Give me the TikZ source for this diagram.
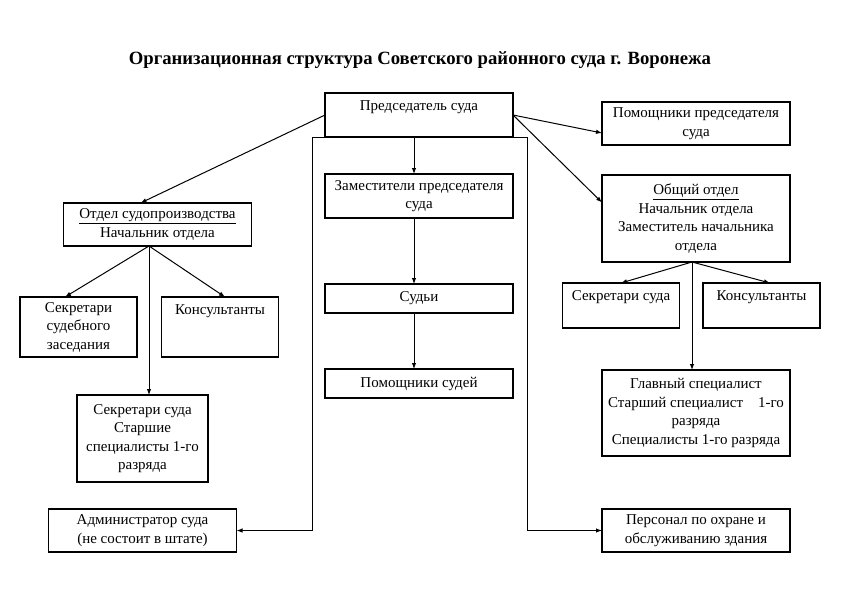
\documentclass[tikz,border=0pt]{standalone}
\usepackage{fontspec}
\setmainfont{Liberation Serif}
\usetikzlibrary{arrows.meta, positioning, calc}

\begin{document}
\begin{tikzpicture}[
  x=1pt, y=-1pt,
  >={Latex[length=6pt, width=4.5pt]},
  font=\fontsize{15}{18.5}\selectfont,
  node distance=37pt,
  unit/.style={
    rectangle, draw, line width=1.1pt, align=center,
    inner sep=3pt, outer sep=0pt,
  },
  wide/.style={unit, minimum width=188pt},
  small/.style={unit, minimum width=117pt},
  topline/.style={text height=14.5pt, text depth=#1},
  link/.style={->, line width=1pt},
]
\fill[white] (0,0) rectangle (850,594);
\useasboundingbox (0,0) rectangle (850,594);

% --- Title ---
\node[font=\bfseries\fontsize{18.7}{22}\selectfont] (title) at (420,60)
  {Организационная структура Советского районного суда г. Воронежа};

% --- Chairman and centre column ---
\node[wide, minimum height=44pt, topline=23.5pt] (chair) at (419,115) {Председатель суда};
\node[wide, minimum height=44pt, below=of chair] (deputy) {Заместители председателя\\суда};
\node[wide, minimum height=29pt, below=66pt of deputy] (judges) {Судьи};
\node[wide, minimum height=29pt, below=56pt of judges] (assist) {Помощники судей};

% --- Left: court proceedings office ---
\node[wide, minimum height=43pt] (office) at (157.5,224.5) {\underline{Отдел судопроизводства}\\Начальник отдела};
\node[small, minimum height=60pt] (clerks) at (78.5,327) {Секретари\\судебного\\заседания};
\node[small, minimum height=60pt, topline=39.5pt] (consL) at (220,327) {Консультанты};
\node[unit, minimum width=131pt, minimum height=87pt] (secL) at (142.5,438.5) {Секретари суда\\Старшие\\специалисты 1-го\\разряда};
\node[wide, minimum height=43pt] (admin) at (142.5,530.5) {Администратор суда\\(не состоит в штате)};

% --- Right: general office ---
\node[wide, minimum height=43pt] (aides) at (696,123.5) {Помощники председателя\\суда};
\node[wide, minimum height=87pt] (general) at (696,218.5) {\underline{Общий отдел}\\Начальник отдела\\Заместитель начальника\\отдела};
\node[small, minimum height=45pt, topline=24.5pt] (secR) at (621,305.5) {Секретари суда};
\node[small, minimum height=45pt, topline=24.5pt] (consR) at (761.5,305.5) {Консультанты};
\node[wide, minimum height=86pt] (chief) at (696,413) {Главный специалист\\Старший специалист\quad 1-го\\разряда\\Специалисты 1-го разряда};
\node[wide, minimum height=43pt] (guard) at (696,530.5) {Персонал по охране и\\обслуживанию здания};

% --- Arrows ---
\coordinate (spine) at (414,0);
\draw[link] (chair.south -| spine) -- (deputy.north -| spine);
\draw[link] (deputy.south -| spine) -- (judges.north -| spine);
\draw[link] (judges.south -| spine) -- (assist.north -| spine);

\draw[link] (chair.west) -- ([xshift=-17pt]office.north);
\draw[link] (chair.east) -- ([yshift=-9.5pt]aides.west);
\draw[link] (chair.east) -- ([yshift=16pt]general.west);

\coordinate (frameL) at (312,0);
\coordinate (frameR) at (527,0);
\draw[link] (chair.south west) -- (chair.south -| frameL) -- (admin.east -| frameL) -- (admin.east);
\draw[link] (chair.south east) -- (chair.south -| frameR) -- (guard.west -| frameR) -- (guard.west);

\coordinate (forkL) at ([xshift=-8.5pt]office.south);
\draw[link] (forkL) -- ([xshift=-13.5pt]clerks.north);
\draw[link] (forkL) -- ([xshift=5pt]consL.north);
\draw[link] (forkL) -- (secL.north -| forkL);

\coordinate (forkR) at ([xshift=-4pt]general.south);
\draw[link] (forkR) -- (secR.north);
\draw[link] (forkR) -- ([xshift=8.5pt]consR.north);
\draw[link] (forkR) -- (chief.north -| forkR);

\end{tikzpicture}
\end{document}
